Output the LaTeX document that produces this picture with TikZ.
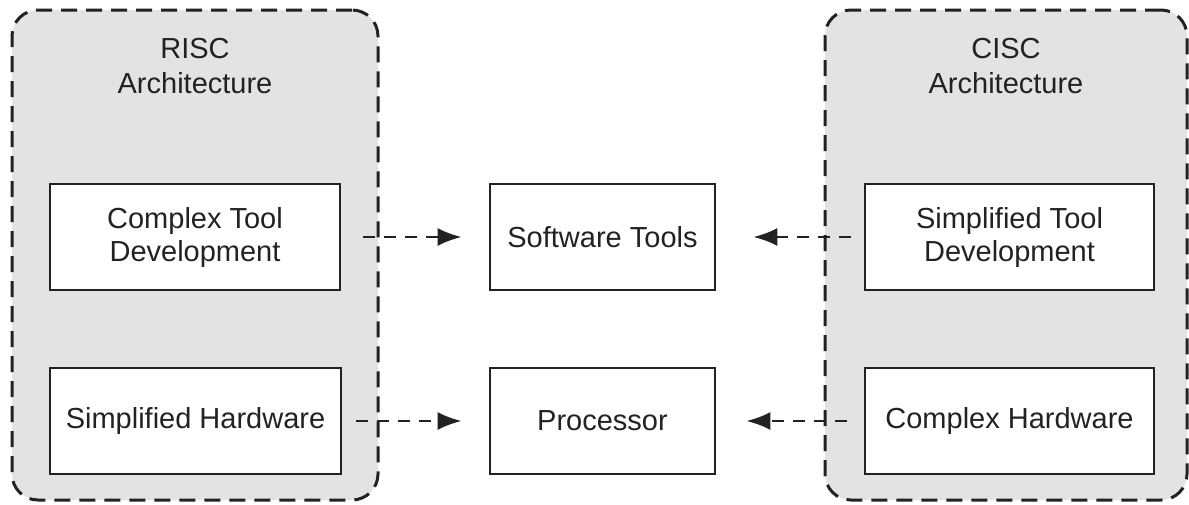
\documentclass[tikz,border=0pt]{standalone}
\usepackage{fontspec}
\setmainfont{Liberation Sans}
\usetikzlibrary{arrows.meta}
\definecolor{panelgray}{HTML}{E3E3E3}
\definecolor{inkgray}{HTML}{222222}
\tikzset{
  container/.style={draw=inkgray, fill=panelgray, line width=3pt,
    dash pattern=on 16pt off 9pt, rounded corners=26pt, inner sep=0pt},
  title/.style={align=center, text=inkgray, font=\fontsize{29}{35}\selectfont, inner sep=0pt},
  blockbox/.style={draw=inkgray, fill=white, line width=2.6pt, align=center,
    text=inkgray, font=\fontsize{29}{33}\selectfont, inner sep=0pt},
  flow/.style={draw=inkgray, line width=2.8pt, dash pattern=on 12pt off 9pt,
    -{Latex[length=24pt,width=18pt]}}
}
\begin{document}
\begin{tikzpicture}[x=1pt,y=-1pt]
  \useasboundingbox (0,0) rectangle (1189,504);

  % the two architecture panels
  \node[container, minimum width=366pt, minimum height=490pt] (risc) at (195,255) {};
  \node[container, minimum width=362pt, minimum height=490pt] (cisc) at (1006,255) {};

  \node[title] (risct) at (195,66) {RISC\\Architecture};
  \node[title] (cisct) at (1006,66) {CISC\\Architecture};

  % blocks inside the panels
  \node[blockbox, minimum width=290pt, minimum height=106pt] (rtool) at (195,237) {Complex Tool\\Development};
  \node[blockbox, minimum width=291pt, minimum height=106pt] (rhw) at (195.5,421) {Simplified Hardware};
  \node[blockbox, minimum width=289pt, minimum height=106pt] (ctool) at (1009.5,237) {Simplified Tool\\Development};
  \node[blockbox, minimum width=289pt, minimum height=106pt] (chw) at (1009.5,421) {Complex Hardware};

  % shared blocks in the middle
  \node[blockbox, minimum width=225pt, minimum height=106pt] (sw) at (602.5,237) {Software Tools};
  \node[blockbox, minimum width=225pt, minimum height=106pt] (cpu) at (602.5,421) {Processor};

  % connectors
  \draw[flow, shorten <=22pt, shorten >=27pt] (rtool.east) -- (sw.west);
  \draw[flow, shorten <=14pt, shorten >=27pt] (rhw.east) -- (cpu.west);
  \draw[flow, shorten <=13pt, shorten >=37pt] (ctool.west) -- (sw.east);
  \draw[flow, shorten <=17pt, shorten >=30pt] (chw.west) -- (cpu.east);
\end{tikzpicture}
\end{document}
